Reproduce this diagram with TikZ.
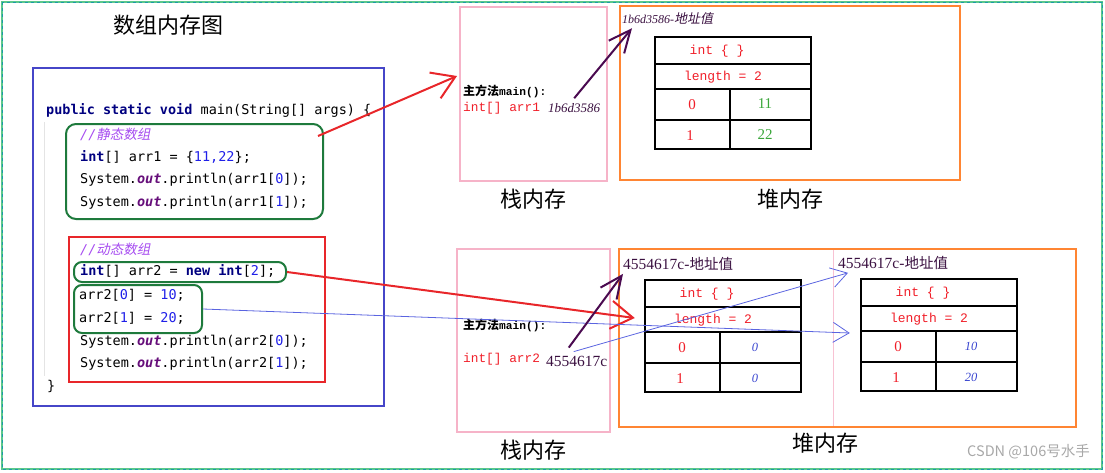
\documentclass[tikz,border=0pt]{standalone}
\usepackage{fontspec}
\setmainfont{Liberation Serif}
\setmonofont{DejaVu Sans Mono}
\newfontfamily\cjk{Noto Sans CJK SC}
\newfontfamily\cjkslant[FakeSlant=0.2]{Noto Sans CJK SC}
\newfontfamily\stackmono{Liberation Mono}
\usetikzlibrary{arrows.meta,fit,positioning}
\definecolor{frameblue}{HTML}{4646C8}
\definecolor{codegreen}{HTML}{1E7A3C}
\definecolor{codered}{HTML}{E8262A}
\definecolor{stackpink}{HTML}{F6B3C8}
\definecolor{heaporange}{HTML}{FF8533}
\definecolor{kwnavy}{HTML}{000080}
\definecolor{numblue}{HTML}{1F1FE8}
\definecolor{fieldpurple}{HTML}{660E7A}
\definecolor{cmtpurple}{HTML}{A64CF0}
\definecolor{ptrpurple}{HTML}{4A0A50}
\definecolor{addrink}{HTML}{3A1040}
\definecolor{valred}{HTML}{F01E28}
\definecolor{valgreen}{HTML}{3AA63A}
\definecolor{valblue}{HTML}{3A46D0}
\definecolor{refblue}{HTML}{5A64E0}
\definecolor{borderteal}{HTML}{1E9AA8}
\definecolor{bordergreen}{HTML}{5CC88C}
\definecolor{markgray}{HTML}{A8A8A8}
\definecolor{guidegray}{HTML}{E4E4E4}
\newcommand{\kw}[1]{\textbf{\textcolor{kwnavy}{#1}}}
\newcommand{\nm}[1]{\textcolor{numblue}{#1}}
\newcommand{\fld}[1]{\textcolor{fieldpurple}{\textbf{\textit{#1}}}}
\tikzset{
  framebox/.style={draw,inner sep=0pt,line width=2pt},
  codeline/.style={anchor=west,inner sep=0pt,font=\fontsize{13.5}{16}\selectfont\ttfamily},
  cmtline/.style={codeline,text=cmtpurple,font=\fontsize{13.5}{16}\selectfont\ttfamily\itshape},
  titletext/.style={inner sep=0pt,font=\cjk\fontsize{22}{26}\selectfont},
  memlabel/.style={titletext},
  stacktext/.style={anchor=west,inner sep=0pt,font=\stackmono\fontsize{11.2}{14}\selectfont\bfseries},
  stackvar/.style={anchor=west,inner sep=0pt,text=valred,font=\stackmono\fontsize{12.8}{15}\selectfont},
  ptrtext/.style={anchor=west,inner sep=0pt,text=addrink,font=\fontsize{15.5}{18}\selectfont},
  addrtext/.style={ptrtext},
  cellline/.style={line width=2pt,draw=black},
  celltext/.style={inner sep=0pt,text=valred,font=\stackmono\fontsize{13}{15}\selectfont},
  indextext/.style={inner sep=0pt,text=valred,font=\fontsize{15}{18}\selectfont},
  greenval/.style={inner sep=0pt,text=valgreen,font=\fontsize{15}{18}\selectfont},
  blueval/.style={inner sep=0pt,text=valblue,font=\fontsize{12.5}{15}\selectfont\itshape},
  redarrow/.style={draw=codered,line width=2pt,-{Straight Barb[length=22pt,width=28pt]}},
  ptrarrow/.style={draw=ptrpurple,line width=2pt,-{Straight Barb[length=22pt,width=20pt]}},
  refarrow/.style={draw=refblue,line width=0.8pt,-{Straight Barb[length=16pt,width=20pt]}}
}
\begin{document}
\begin{tikzpicture}[x=1pt,y=-1pt]
  \useasboundingbox (0,0) rectangle (1105,472);
  % outer frame
  \draw[bordergreen,line width=1.6pt] (2,2) rectangle (1102,469);
  \draw[borderteal,line width=1pt,dash pattern=on 3pt off 3pt] (2,2) rectangle (1102,469);
  \node[titletext] (title) at (168,25) {数组内存图};

  % code panel
  \node[fit={(33,68) (384,406)},framebox,draw=frameblue] (mainbody) {};
  \draw[guidegray,line width=1pt] (44,122) -- (44,376);
  \node[fit={(66,124) (323,219)},framebox,draw=codegreen,rounded corners=10pt] (staticbox) {};
  \node[fit={(69,237) (325,382)},framebox,draw=codered] (dynamicbox) {};
  \node[fit={(74,262) (286,282)},framebox,draw=codegreen,rounded corners=8pt] (newbox) {};
  \node[fit={(74,285) (202,333)},framebox,draw=codegreen,rounded corners=8pt] (assignbox) {};

  \node[codeline] (sig) at (46,110) {\kw{public static void} main(String[] args) \{};
  \node[cmtline] (cmt1) at (80,134) {//{\cjkslant\upshape 静态数组}};
  \node[codeline] (arr1) at (80,157) {\kw{int}[] arr1 = \{\nm{11,22}\};};
  \node[codeline] (print1a) at (80,180) {System.\fld{out}.println(arr1[\nm{0}]);};
  \node[codeline] (print1b) at (80,203) {System.\fld{out}.println(arr1[\nm{1}]);};
  \node[cmtline] (cmt2) at (80,249) {//{\cjkslant\upshape 动态数组}};
  \node[codeline] (arr2) at (80,271) {\kw{int}[] arr2 = \kw{new int}[\nm{2}];};
  \node[codeline] (set0) at (79,295) {arr2[\nm{0}] = \nm{10};};
  \node[codeline] (set1) at (79,318) {arr2[\nm{1}] = \nm{20};};
  \node[codeline] (print2a) at (80,342) {System.\fld{out}.println(arr2[\nm{0}]);};
  \node[codeline] (print2b) at (80,364) {System.\fld{out}.println(arr2[\nm{1}]);};
  \node[codeline] (close) at (47,386) {\}};

  % stack and heap, static array
  \node[fit={(460,7) (607,181)},framebox,draw=stackpink] (stack1) {};
  \node[stacktext] (main1) at (463,91) {{\cjk\fontsize{12}{14}\selectfont 主方法}main():};
  \node[stackvar] (var1) at (463,108) {int[] arr1};
  \node[ptrtext,font=\fontsize{13}{15}\selectfont\itshape] (ptr1) at (548,108) {1b6d3586};
  \node[memlabel,below=7pt of stack1] (stacklabel1) {栈内存};
  \node[fit={(620,6) (960,180)},framebox,draw=heaporange,line width=2.4pt] (heap1) {};
  \node[addrtext,font=\fontsize{12}{14}\selectfont\itshape] (haddr1) at (622,19) {1b6d3586-{\cjkslant\upshape\fontsize{13}{15}\selectfont 地址值}};
  \node[memlabel,below=8pt of heap1] (heaplabel1) {堆内存};

  % stack and heap, dynamic array
  \node[fit={(457,249) (610,432)},framebox,draw=stackpink] (stack2) {};
  \node[stacktext] (main2) at (463,325) {{\cjk\fontsize{12}{14}\selectfont 主方法}main():};
  \node[stackvar] (var2) at (463,359) {int[] arr2};
  \node[ptrtext] (ptr2) at (546,361) {4554617c};
  \node[memlabel,below=7pt of stack2] (stacklabel2) {栈内存};
  \node[fit={(619,249) (1076,427)},framebox,draw=heaporange,line width=2.4pt] (heap2) {};
  \draw[stackpink!80,line width=1pt] (833,250) -- (833,426);
  \node[addrtext] (haddrb) at (623,264) {4554617c-{\cjk\fontsize{14.5}{17}\selectfont 地址值}};
  \node[addrtext] (haddrc) at (838,263) {4554617c-{\cjk\fontsize{14.5}{17}\selectfont 地址值}};
  \node[memlabel,below=5pt of heap2,xshift=-22pt] (heaplabel2) {堆内存};

  % heap tables
  \foreach \tx/\ty/\tid/\va/\vb/\vst in {655/37/a/11/22/greenval,645/280/b/0/0/blueval,861/279/c/10/20/blueval} {
    \draw[cellline] (\tx,\ty) rectangle (\tx+156,\ty+112);
    \draw[cellline] (\tx,\ty+27) -- (\tx+156,\ty+27);
    \draw[cellline] (\tx,\ty+52) -- (\tx+156,\ty+52);
    \draw[cellline] (\tx,\ty+83) -- (\tx+156,\ty+83);
    \draw[cellline] (\tx+75,\ty+52) -- (\tx+75,\ty+112);
    \node[celltext] (type\tid) at (\tx+62,\ty+14) {int \{ \}};
    \node[celltext] (len\tid) at (\tx+68,\ty+40) {length = 2};
    \node[indextext] (idx0\tid) at (\tx+37,\ty+68) {0};
    \node[indextext] (idx1\tid) at (\tx+35,\ty+99) {1};
    \node[\vst] (val0\tid) at (\tx+110,\ty+67) {\va};
    \node[\vst] (val1\tid) at (\tx+110,\ty+98) {\vb};
  }

  \node[anchor=east,inner sep=0pt,text=markgray,font=\cjk\fontsize{14.5}{17}\selectfont] (mark) at (1090,452) {CSDN @106号水手};

  % references
  \draw[redarrow] ([xshift=-6pt,yshift=-13pt]staticbox.north east) -- ([xshift=-2pt,yshift=18pt]stack1.west);
  \draw[ptrarrow] ([yshift=5pt]ptr1.north) -- ([xshift=10pt,yshift=-3pt]haddr1.south west);
  \draw[redarrow] (newbox.east) -- ([xshift=-39pt,yshift=2pt]lenb.west);
  \draw[refarrow] (assignbox.east) -- ([xshift=-40pt,yshift=-14pt]lenc.west);
  \draw[ptrarrow] ([xshift=-8pt,yshift=8pt]ptr2.north) -- ([yshift=-3pt]haddrb.south west);
  \draw[refarrow] ([xshift=-3pt,yshift=4pt]ptr2.north) -- ([xshift=10pt,yshift=-3pt]haddrc.south west);
\end{tikzpicture}
\end{document}
